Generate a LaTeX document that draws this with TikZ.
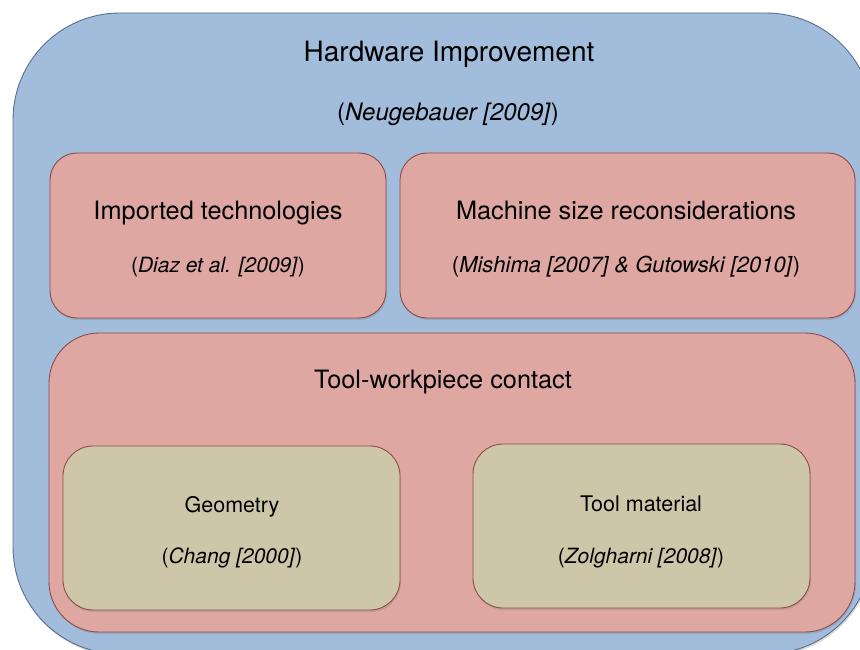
\documentclass[tikz,border=0pt]{standalone}
\usepackage{fontspec}
\setmainfont{TeX Gyre Heros}
\usetikzlibrary{shadows}
\definecolor{hwblue}{HTML}{A2BDDC}
\definecolor{hwline}{HTML}{56708E}
\definecolor{subred}{HTML}{DEA7A2}
\definecolor{subline}{HTML}{8C4B4B}
\definecolor{leafkhaki}{HTML}{CDC6A8}
\definecolor{leafline}{HTML}{8C5046}
\begin{document}
\begin{tikzpicture}[x=1pt,y=-1pt]
\tikzstyle{every node}+=[inner sep=0pt]
\tikzstyle{box}=[rectangle, draw, line width=0.9pt, drop shadow={shadow xshift=1pt,shadow yshift=-2pt,opacity=0.3}]
\tikzstyle{hwbox}=[box, fill=hwblue, draw=hwline, rounded corners=107pt]
\tikzstyle{subbox}=[box, fill=subred, draw=subline, rounded corners=27pt]
\tikzstyle{leafbox}=[box, fill=leafkhaki, draw=leafline, rounded corners=30pt]
\tikzstyle{hwtitle}=[anchor=base, font=\fontsize{28}{32}\selectfont]
\tikzstyle{subtitle}=[anchor=base, font=\fontsize{25.3}{30}\selectfont]
\tikzstyle{leaftitle}=[anchor=base, font=\fontsize{21.5}{26}\selectfont]
\tikzstyle{cite}=[anchor=base, font=\fontsize{21}{24}\selectfont]
\useasboundingbox (0,0) rectangle (860,650);
\node [hwbox, minimum width=860pt, minimum height=641pt] (hw) at (443,333.5) {};
\node [hwtitle] (hwname) at (449,62) {Hardware Improvement};
\node [cite, font=\fontsize{24}{28}\selectfont] (hwcite) at (448,121) {(\textit{Neugebauer [2009]})};
\node [subbox, minimum width=336pt, minimum height=165pt] (imp) at (218,235.5) {};
\node [subtitle] (impname) at (218,219) {Imported technologies};
\node [cite] (impcite) at (218,272) {(\textit{Diaz et al. [2009]})};
\node [subbox, minimum width=455pt, minimum height=165pt] (mach) at (627.5,235.5) {};
\node [subtitle] (machname) at (626,219) {Machine size reconsiderations};
\node [cite, font=\fontsize{22}{26}\selectfont] (machcite) at (626,272) {(\textit{Mishima [2007] \& Gutowski [2010]})};
\node [subbox, rounded corners=50pt, minimum width=806pt, minimum height=299pt] (tool) at (452,482.5) {};
\node [subtitle] (toolname) at (443,388) {Tool-workpiece contact};
\node [leafbox, minimum width=337pt, minimum height=164pt] (geo) at (231.5,528) {};
\node [leaftitle] (geoname) at (232,512) {Geometry};
\node [cite] (geocite) at (232,563) {(\textit{Chang [2000]})};
\node [leafbox, minimum width=337pt, minimum height=164pt] (mat) at (641.5,526) {};
\node [leaftitle] (matname) at (641,511) {Tool material};
\node [cite] (matcite) at (641,563) {(\textit{Zolgharni [2008]})};
\end{tikzpicture}
\end{document}
